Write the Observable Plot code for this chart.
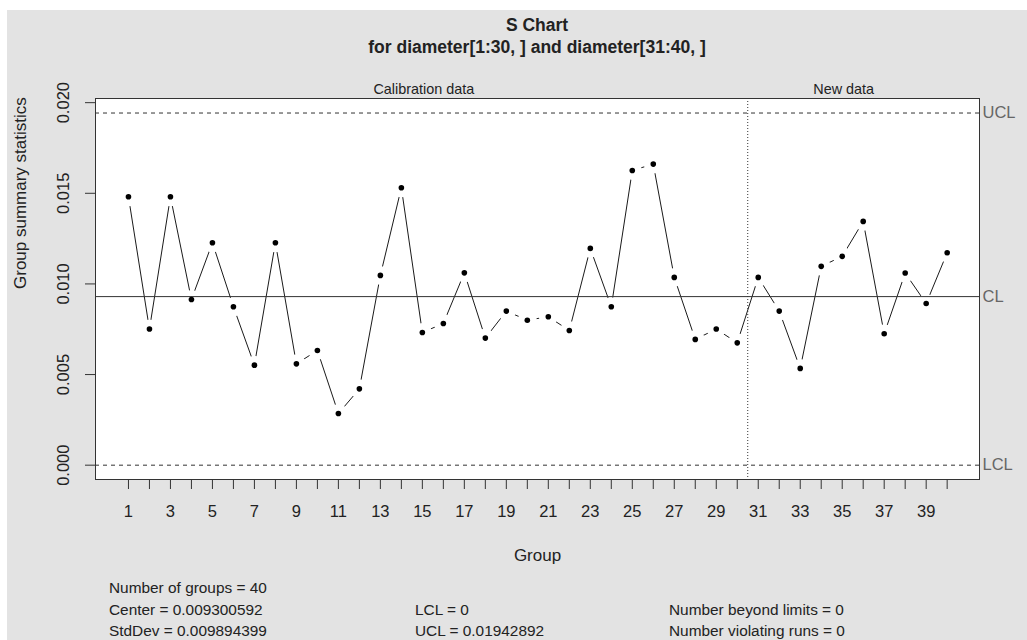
<!DOCTYPE html>
<html>
<head>
<meta charset="utf-8">
<script src="https://cdn.jsdelivr.net/npm/d3@7"></script>
<script src="https://cdn.jsdelivr.net/npm/@observablehq/plot@0.6"></script>
<style>
  body { margin: 0; background: #ffffff; font-family: "Liberation Sans", Arial, sans-serif; }
  #panel { position: absolute; left: 7px; top: 10px; width: 1020px; height: 630px; background: #e3e3e3; overflow: hidden; color: #222; }
  #title { position: absolute; left: 230px; width: 600px; top: 4px; text-align: center; font-weight: bold; font-size: 17.5px; line-height: 22px; }
  #chart { position: absolute; left: 0; top: 62px; }
  .stat { position: absolute; font-size: 15.4px; line-height: 21.7px; white-space: pre; }
</style>
</head>
<body>
<div id="panel">
  <div id="title">S Chart<br>for diameter[1:30, ] and diameter[31:40, ]</div>
  <div id="chart"></div>
  <div class="stat" id="col1" style="left:102px; top:567px;"></div>
  <div class="stat" id="col2" style="left:408px; top:588.7px;"></div>
  <div class="stat" id="col3" style="left:662px; top:588.7px;"></div>
</div>
<script>
// Group standard deviations: calibration groups 1-30, new groups 31-40
const sdCalibration = [
  0.01481, 0.00751, 0.01481, 0.00914, 0.01227, 0.00874, 0.00552, 0.01227, 0.00559, 0.00633,
  0.00285, 0.00421, 0.01047, 0.01531, 0.00732, 0.00782, 0.01061, 0.00701, 0.00850, 0.00800,
  0.00819, 0.00743, 0.01196, 0.00874, 0.01626, 0.01661, 0.01036, 0.00694, 0.00751, 0.00675
];
const sdNew = [0.01036, 0.00850, 0.00534, 0.01097, 0.01152, 0.01345, 0.00725, 0.01060, 0.00892, 0.01172];

// Control limits and summary
const centerValue = 0.009300592;
const stdDevValue = 0.009894399;
const lclValue = 0;
const uclValue = 0.01942892;
const beyondLimits = 0;
const violatingRuns = 0;

const limitNames = ["UCL", "CL", "LCL"];
const limitValues = [uclValue, centerValue, lclValue];
const yTickValues = [0, 0.005, 0.010, 0.015, 0.020];
const sectionNames = ["Calibration data", "New data"];

const sdAll = sdCalibration.concat(sdNew);
const groups = d3.range(1, sdAll.length + 1);
const rows = groups.map((g, i) => ({group: g, sd: sdAll[i]}));
const limits = limitNames.map((name, i) => ({name, value: limitValues[i]}));
const sections = [
  {label: sectionNames[0], from: 1, to: sdCalibration.length},
  {label: sectionNames[1], from: sdCalibration.length + 1, to: sdAll.length}
];
const boundary = sdCalibration.length + 0.5;

const chart = Plot.plot({
  width: 1020,
  height: 508,
  marginLeft: 88,
  marginRight: 48,
  marginTop: 26,
  marginBottom: 101,
  x: {domain: [-0.57, 41.54]},
  y: {domain: [-0.00079, 0.02023]},
  style: {background: "transparent", fontFamily: "'Liberation Sans', Arial, sans-serif", fontSize: "16.5px", color: "#222"},
  marks: [
    Plot.frame({fill: "white", stroke: null}),
    // connecting line; white halos around each point open the gaps
    Plot.line(rows, {x: "group", y: "sd", stroke: "#1a1a1a", strokeWidth: 1}),
    Plot.dot(rows, {x: "group", y: "sd", r: 9.5, fill: "white", stroke: null}),
    Plot.ruleY([uclValue, lclValue], {stroke: "#333", strokeDasharray: "4,4"}),
    Plot.ruleY([centerValue], {stroke: "#333"}),
    Plot.ruleX([boundary], {stroke: "#333", strokeDasharray: "1,2"}),
    Plot.frame({stroke: "#333"}),
    Plot.dot(rows, {x: "group", y: "sd", r: 2.8, fill: "#000", stroke: null}),
    Plot.axisX({
      ticks: groups, tickSize: 10, tickPadding: 16, label: null,
      tickFormat: d => (d % 2 ? String(d) : ""), fontSize: 16.5, stroke: "#333"
    }),
    Plot.axisY({ticks: yTickValues, tickSize: 10, tickFormat: () => "", label: null, stroke: "#333"}),
    Plot.text(yTickValues, {
      y: d => d, text: d => d3.format(".3f")(d), frameAnchor: "left", dx: -31.5,
      rotate: -90, textAnchor: "middle", lineAnchor: "middle", fontSize: 16.5, fill: "#222"
    }),
    Plot.text(["Group summary statistics"], {
      frameAnchor: "left", dx: -74.5, rotate: -90, lineAnchor: "middle", fontSize: 17, fill: "#222"
    }),
    Plot.text(["Group"], {frameAnchor: "bottom", dy: 76, lineAnchor: "middle", fontSize: 17, fill: "#222"}),
    Plot.text(sections, {
      x: d => (d.from + d.to) / 2, text: "label", frameAnchor: "top", dy: -9.3, dx: -9,
      lineAnchor: "middle", fontSize: 14.4, fill: "#222"
    }),
    Plot.text(limits, {
      y: "value", text: "name", frameAnchor: "right", dx: 3, textAnchor: "start",
      lineAnchor: "middle", fontSize: 16.5, fill: "#666"
    })
  ]
});
document.getElementById("chart").appendChild(chart);

document.getElementById("col1").textContent =
  `Number of groups = ${sdAll.length}\nCenter = ${centerValue}\nStdDev = ${stdDevValue}`;
document.getElementById("col2").textContent =
  `LCL = ${lclValue}\nUCL = ${uclValue}`;
document.getElementById("col3").textContent =
  `Number beyond limits = ${beyondLimits}\nNumber violating runs = ${violatingRuns}`;
</script>
</body>
</html>
